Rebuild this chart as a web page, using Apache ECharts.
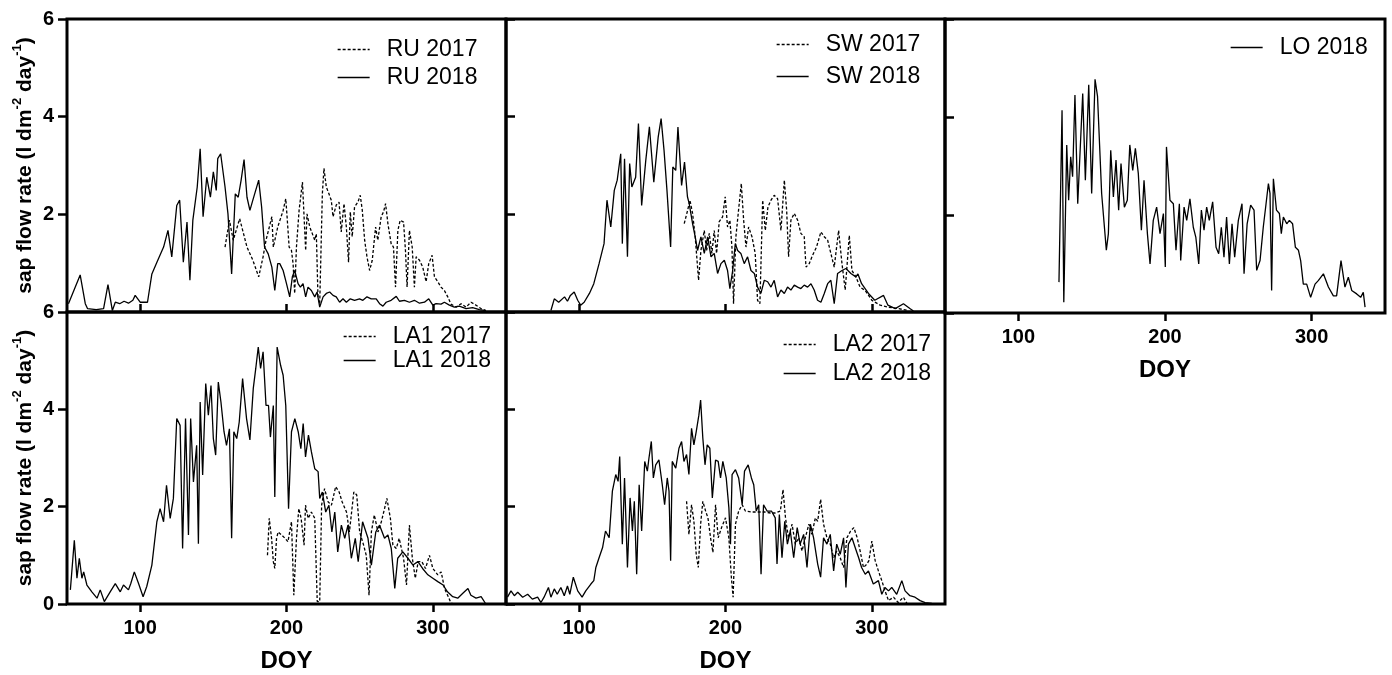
<!DOCTYPE html>
<html><head><meta charset="utf-8">
<script src="https://cdn.jsdelivr.net/npm/echarts@6/dist/echarts.min.js"></script>
<style>html,body{margin:0;padding:0;background:#fff}#c{width:1392px;height:675px}</style>
</head><body><div id="c"></div>
<script>
const xTicks = [100, 200, 300];
const yTickInterval = 2;

const ru2017 = [[158,1.33],[161,1.88],[163.6,1.47],[168,1.91],[173,1.33],[177,1.06],[181,0.72],[184,1.13],[186,1.47],[190,1.95],[191,1.33],[194,1.74],[197.7,2.08],[199.5,2.32],[200.4,1.95],[201.8,1.33],[203.4,1.26],[204.5,0.99],[205.6,0.38],[206.8,1.33],[208.6,2.08],[210.9,2.66],[211.8,2.08],[213.1,1.26],[214,2.01],[215.9,1.74],[217.7,1.6],[219.3,1.47],[220.4,1.6],[221.5,0.31],[222.7,0.17],[224.5,2.42],[225.6,2.94],[227.2,2.56],[229,2.42],[230.6,2.29],[231.8,1.95],[234,2.19],[235.9,2.25],[237.4,1.64],[239.3,2.22],[240.9,1.74],[242.4,1.02],[243.6,2.05],[244.9,1.54],[246.5,2.15],[248.8,2.25],[250.4,2.39],[251.8,2.08],[253.4,1.47],[255,1.13],[256.8,0.85],[258.6,1.06],[260.9,1.74],[262.4,1.47],[264.7,1.95],[266.3,2.05],[267.7,2.22],[269.3,1.81],[271.5,1.4],[273.1,1.33],[274.5,0.51],[276.1,1.67],[277.7,1.88],[280,1.84],[281.3,1.26],[282.4,0.51],[284,1.67],[285.9,1.33],[287.4,0.51],[288.6,1.13],[290.9,1.06],[293.1,0.92],[295.4,0.62],[297.2,0.99],[299.5,1.16],[301.1,0.72],[303.4,0.62],[305.6,0.51],[307.9,0.44],[310.2,0.31],[312.4,0.16],[315.9,0.1],[319.3,0.17],[322.7,0.1],[326.1,0.2],[329.5,0.14],[332.9,0.07],[336.3,0.03]];
const ru2018 = [[51,0.17],[59,0.76],[62.5,0.17],[64,0.07],[70,0.05],[75,0.07],[78,0.56],[81,0.03],[83,0.2],[86,0.17],[89,0.22],[92,0.18],[95,0.24],[96.6,0.34],[100,0.2],[105,0.2],[108,0.78],[111,0.99],[116,1.33],[119,1.67],[121.6,1.13],[125,2.18],[127,2.29],[129.5,1.02],[132,1.84],[134,0.65],[136,1.88],[139,2.56],[141,3.34],[143,1.95],[145.5,2.76],[148,2.35],[150,2.87],[152,2.49],[153,3.14],[155,3.24],[158,2.56],[160,2.01],[162.5,0.78],[165,2.42],[167,2.35],[169,2.7],[171,3.12],[173,2.35],[175,2.08],[177,2.29],[181,2.7],[183,2.15],[185,1.33],[187.5,1.19],[190,0.92],[192,0.44],[194,0.99],[195.4,0.99],[197.7,0.85],[200,0.58],[202.2,0.31],[204,0.72],[205.6,0.85],[207.9,0.58],[209.5,0.51],[211.3,0.58],[213.1,0.31],[214.7,0.51],[217,0.44],[219.3,0.31],[220.9,0.41],[222.7,0.1],[225,0.31],[227.2,0.38],[229.5,0.41],[231.8,0.34],[234,0.31],[236.3,0.2],[238.6,0.27],[240.9,0.2],[243.6,0.27],[246.5,0.24],[249.9,0.27],[252.2,0.24],[255,0.31],[257.9,0.27],[261.3,0.27],[263.6,0.17],[265.9,0.12],[268.1,0.2],[271.5,0.24],[275,0.32],[277.2,0.22],[280.6,0.24],[284,0.2],[287.4,0.24],[290.9,0.18],[294.3,0.2],[297.2,0.27],[300,0.14],[302.2,0.17],[305.6,0.16],[307.9,0.2],[311.3,0.14],[314.7,0.1],[318.1,0.12],[322.7,0.07],[327.2,0.09],[331.8,0.05],[336.3,0.03]];

const sw2017 = [[171.8,1.81],[174.1,2.08],[175.7,2.29],[177.5,2.02],[179.3,1.54],[181.6,0.65],[183.2,1.26],[185.5,1.67],[187.1,1.26],[188.9,1.61],[190.7,1.2],[192.3,1.67],[193.9,1.2],[195.7,1.85],[198,1.95],[199.8,2.36],[201.4,1.74],[203,1.88],[204.4,1.33],[205.5,0.17],[207.1,1.54],[208.9,2.08],[210.8,2.63],[212.4,1.88],[214,1.33],[215.8,1.74],[218.1,1.54],[220.3,1.2],[221.9,0.24],[223.5,0.17],[225.4,2.29],[227.2,1.67],[229,2.15],[231.1,2.29],[233.3,2.39],[235.6,2.32],[237.9,1.67],[240.2,2.7],[241.8,2.08],[243.1,1.13],[244.7,1.88],[247,2.02],[249.3,1.88],[251.5,1.61],[253.8,1.54],[255,0.92],[257.2,0.99],[259.5,1.16],[262.2,1.33],[265.2,1.64],[267.5,1.54],[269.8,1.47],[272,1.2],[274.3,0.92],[277.3,1.67],[279.6,0.99],[281.8,0.45],[284.6,1.57],[286.4,0.85],[289.1,0.72],[292,0.51],[295.5,0.44],[300,0.24],[305.7,0.14],[311,0.1],[318,0.07],[325,0.03]];
const sw2018 = [[80.7,0.03],[83,0.27],[86,0.2],[90,0.31],[92,0.22],[94,0.34],[96.6,0.41],[99,0.24],[101,0.14],[103.4,0.2],[107,0.38],[110,0.58],[113.6,0.99],[117,1.4],[119,2.29],[121.6,1.74],[124,2.49],[126,2.7],[128.4,3.24],[129.5,1.4],[131,3.14],[133,1.13],[134.5,3.04],[136,2.56],[138.6,2.76],[140.5,3.86],[142.7,2.18],[145.5,3.1],[148,3.79],[151,2.66],[154,3.58],[156,3.96],[158,3.31],[160,2.49],[162.5,1.33],[164,2.97],[166,2.9],[167.5,3.79],[170,2.59],[172,3.07],[174,2.36],[175.2,2.22],[177.5,1.81],[179.3,1.54],[180.9,1.26],[183.2,1.54],[185.5,1.2],[187.8,1.54],[190.1,1.13],[192.3,1.2],[194.6,0.79],[196.9,0.99],[199.2,1.06],[201.4,0.85],[203,0.48],[204.9,0.85],[206.7,1.4],[208.3,1.26],[210.5,1.2],[212.8,0.99],[215.1,1.13],[217.4,0.85],[219.7,0.79],[221.9,0.51],[224.2,0.38],[226.5,0.65],[228.8,0.62],[231.1,0.51],[233.3,0.65],[235.6,0.31],[237.9,0.45],[240.2,0.38],[242.4,0.51],[244.7,0.45],[247,0.55],[249.3,0.51],[251.5,0.48],[253.8,0.55],[256.1,0.51],[258.4,0.58],[260.6,0.45],[262.9,0.24],[265.2,0.2],[267.5,0.38],[269.8,0.58],[272,0.65],[274.3,0.17],[276.6,0.79],[279.6,0.85],[282.3,0.89],[285.7,0.79],[289.1,0.72],[290.5,0.78],[293,0.58],[297.7,0.38],[302,0.24],[308,0.34],[311,0.14],[316,0.07],[321.6,0.17],[326,0.07],[328.4,0.02]];

const lo2018 = [[127.7,0.63],[129.8,4.14],[131,0.22],[133,3.43],[134.3,2.3],[135.7,3.19],[137,2.78],[138.6,4.45],[140.5,2.23],[143.9,4.48],[145.7,2.71],[148,4.66],[150,2.44],[152.3,4.77],[154,4.42],[156.8,2.44],[160,1.28],[161.4,1.62],[163,3.32],[164.8,2.37],[166.6,3.12],[168.4,2.1],[170,3.05],[172.3,2.16],[174.3,2.3],[176,3.43],[178,2.91],[179.8,3.36],[181.8,2.85],[183.9,1.69],[185.7,2.71],[188,1.62],[189.8,1.0],[192,1.89],[194.3,2.16],[196.6,1.62],[198.9,2.03],[200.2,0.94],[201,3.39],[203.4,2.3],[205.7,2.23],[207.5,1.28],[209.8,2.23],[210.7,1.07],[213,2.16],[214.8,1.89],[217,2.33],[219.3,1.75],[221,1.55],[223,1.0],[224.8,2.1],[226.6,1.69],[228.4,2.16],[230.2,1.89],[232.5,2.27],[234.8,1.34],[236.6,1.21],[238.4,1.75],[240.2,1.14],[242,1.96],[243.9,1.0],[245.7,1.82],[247.5,1.14],[250,1.89],[252.5,2.23],[253.9,0.8],[256,1.82],[258.4,2.2],[260.7,2.1],[262.5,0.87],[264.8,1.07],[267,1.75],[268.9,2.23],[270.5,2.64],[271.6,2.44],[272.7,0.46],[273.9,2.74],[276,2.1],[278,2.03],[279.3,1.62],[280.7,1.96],[283,1.82],[284.8,1.89],[287,1.82],[288.9,1.34],[291,1.28],[292.5,1.07],[294.3,0.59],[296.6,0.59],[299.3,0.32],[302.3,0.59],[304.5,0.66],[308,0.8],[311.4,0.53],[314.8,0.35],[317,0.35],[320,1.07],[322.7,0.53],[325,0.73],[327.3,0.46],[330.7,0.39],[333.4,0.32],[335.2,0.42],[336.4,0.12]];

const la12017 = [[187,1.0],[188.2,1.76],[189.8,1.35],[191,0.87],[192,0.73],[193.2,1.35],[194.3,1.48],[196.6,1.42],[199,1.35],[201,1.28],[203.4,1.69],[205,0.18],[206.8,1.35],[208.4,1.96],[210,1.76],[212,1.21],[213,2.03],[214.8,1.76],[217,1.89],[219.3,1.76],[221,0.05],[222.7,0.05],[224,2.03],[226,2.37],[228.4,2.1],[230.7,2.03],[233.6,2.41],[236,2.3],[238,2.1],[241,1.89],[243,1.48],[246,2.3],[248,2.24],[250,1.48],[252.7,1.21],[254.5,1.0],[256.4,0.18],[258,1.48],[260,1.83],[262.5,1.48],[264.8,1.69],[267,1.96],[268.6,2.17],[271,1.76],[272.7,1.21],[275,1.14],[277,1.35],[280,0.94],[282,0.39],[284,1.62],[286,0.94],[288,0.53],[290,0.87],[292.5,0.87],[295,0.73],[297.7,1.0],[300,0.73],[303.4,0.6],[305.7,0.66],[308,0.32],[311,0.12],[312.5,0.01],[316,0.0]];
const la12018 = [[52.3,0.29],[55,1.31],[56.8,0.53],[58.4,0.94],[60.2,0.53],[61.4,0.66],[63.6,0.39],[67,0.25],[70.5,0.12],[72.7,0.29],[75.5,0.05],[79.5,0.25],[83,0.42],[86.4,0.25],[88.6,0.39],[92,0.29],[93.6,0.42],[96,0.66],[98.9,0.42],[102,0.15],[104.5,0.36],[108,0.8],[111.4,1.69],[113.6,1.96],[116,1.69],[118,2.44],[120.5,1.76],[122.7,2.17],[125,3.81],[127.3,3.67],[129,1.14],[131,3.81],[133,1.42],[134.5,3.81],[136.4,2.51],[138.6,3.26],[139.8,1.24],[141,4.15],[142.7,2.65],[144.8,4.53],[146.6,3.88],[148.4,4.49],[150,3.4],[151.6,3.06],[153.4,4.56],[155.2,4.15],[157.3,3.54],[159,3.26],[161,3.6],[162.5,1.35],[164,3.54],[166,3.4],[167.7,3.74],[170,4.63],[172.7,3.81],[175,3.37],[177.3,4.43],[179,4.84],[180.7,5.28],[182.3,4.84],[184,5.18],[186,4.08],[187.7,4.08],[189,3.43],[191,4.08],[192,2.2],[193.6,5.28],[196,4.9],[197.7,4.7],[199.5,4.08],[201.4,1.96],[203.4,3.54],[205.7,3.81],[208,3.54],[209.8,3.19],[211.4,3.71],[213,3.02],[215,3.47],[217,3.13],[219.3,2.78],[221.6,2.72],[222.7,2.17],[224.5,2.3],[226.8,1.89],[229,2.03],[231,1.48],[233,1.89],[235,1.07],[237.5,1.62],[239.8,1.35],[242,1.62],[244.3,0.94],[247,1.35],[249,0.87],[252,1.69],[255.7,1.35],[258,0.8],[261,1.48],[263.6,1.62],[267,1.35],[269.3,1.42],[271.6,1.14],[274,0.32],[276,0.94],[279.5,1.07],[283,0.94],[286.4,0.8],[289.8,0.87],[293,0.73],[296.6,0.6],[300,0.53],[303.4,0.46],[307,0.39],[310,0.25],[313.6,0.15],[317,0.12],[320.5,0.22],[324,0.32],[326,0.18],[329.5,0.12],[333,0.15],[336,0.01]];

const la22017 = [[173.4,2.11],[175,1.43],[176.8,2.04],[178.4,1.7],[180,1.02],[181.4,0.75],[183,1.64],[184.5,2.11],[186.4,1.91],[188,1.77],[189.8,1.36],[191.4,1.06],[193.2,2.04],[195,1.36],[197.3,1.57],[200,1.77],[202.3,1.36],[204,0.55],[205.2,0.14],[206.8,1.64],[209,1.91],[211.4,2.04],[213.6,1.91],[218,1.89],[222.7,1.89],[227,1.89],[230.7,1.87],[234,1.87],[237.5,1.91],[239.3,2.35],[241,1.77],[243,1.36],[245.5,1.64],[247.7,1.23],[250,1.36],[252.3,1.09],[254.5,1.36],[257,1.64],[259,1.43],[261.4,1.77],[263,1.7],[265,2.15],[267,1.64],[269.3,1.36],[271.6,1.23],[273.9,0.95],[276,1.09],[278.4,0.95],[280.7,0.75],[283,1.36],[285.5,1.5],[287.7,1.57],[290,1.36],[292,1.09],[294.3,0.75],[296.6,0.82],[298,0.89],[300,1.29],[302.3,0.89],[304.5,0.68],[306.8,0.48],[309,0.27],[311.4,0.07],[314.8,0.14],[318,0.03],[321.6,0.14],[324,0.01]];
const la22018 = [[51,0.14],[53.4,0.27],[55.7,0.17],[58,0.24],[61.4,0.14],[64.8,0.2],[68,0.1],[71.6,0.14],[73.9,0.03],[76,0.14],[79,0.34],[80.7,0.14],[83,0.31],[85,0.2],[87.5,0.34],[89.8,0.17],[92,0.37],[93.6,0.2],[96,0.55],[99,0.27],[102,0.14],[104.5,0.27],[108,0.41],[110,0.48],[111.4,0.75],[113.6,0.95],[116,1.16],[118,1.5],[120.5,1.36],[122.7,2.32],[125,2.66],[126.6,2.52],[127.7,3.03],[129.5,1.23],[131,2.59],[133,0.75],[134.8,2.18],[136.4,1.5],[137.7,2.11],[139.3,0.61],[141,2.45],[142.7,1.5],[144.8,2.93],[146.6,2.73],[147.7,3.0],[149.3,3.34],[150.7,2.59],[152.3,2.86],[154.5,2.96],[156.8,2.45],[158.4,2.04],[160.2,2.59],[161.4,2.32],[162.5,0.89],[163.6,2.93],[166,2.79],[168.2,3.2],[170,3.34],[171.6,2.93],[173.4,3.07],[175,2.66],[176.8,3.61],[178.4,3.27],[180,3.54],[181.8,3.88],[183,4.19],[184.5,3.41],[186,2.86],[187.5,3.27],[189.3,3.2],[191,2.18],[193.2,2.96],[195,2.93],[196.6,2.59],[198.2,2.93],[200.5,2.59],[202.3,1.98],[203.4,1.23],[204.5,2.66],[206.8,2.76],[209,2.59],[211.4,2.04],[213,2.73],[215.5,2.86],[217.7,2.59],[219.3,2.45],[221,1.91],[222.7,2.04],[224.3,0.61],[226,2.04],[228.4,1.91],[231.4,1.91],[234,1.77],[235.2,0.82],[236.8,1.84],[238.6,0.95],[240.5,1.7],[242.3,1.23],[244.3,1.5],[246.6,0.95],[249,1.57],[251,1.23],[253.4,1.43],[255.7,0.75],[258,1.64],[260.2,1.36],[263,0.82],[265,0.55],[267,1.36],[269.3,1.23],[271.6,1.43],[273.9,0.68],[276,1.23],[278.4,1.02],[280.7,1.36],[282.3,0.34],[284,1.23],[286.4,1.36],[288.6,1.16],[291,0.95],[293,0.75],[295.5,0.61],[297.7,0.68],[301,0.41],[304.5,0.48],[306.8,0.2],[309,0.34],[311.4,0.27],[313.6,0.34],[317,0.2],[320.5,0.48],[322.7,0.27],[326,0.17],[329.5,0.14],[333,0.07],[336.4,0.03],[341,0.01]];

const FONT = 'Arial, "Liberation Sans", Helvetica, sans-serif';
const chart = echarts.init(document.getElementById('c'), null, {renderer: 'canvas'});

const panels = [
  {names: ['RU 2017', 'RU 2018'], data: [ru2017, ru2018], grid: {left: 67, top: 19, width: 439, height: 293},
   xOut: false, xLabels: false, yOut: true, yLabels: true, hideZero: true, yName: true, legend: {left: 337, top: 38, gap: 5}},
  {names: ['SW 2017', 'SW 2018'], data: [sw2017, sw2018], grid: {left: 506, top: 19, width: 439, height: 293},
   xOut: false, xLabels: false, yOut: false, yLabels: false, yName: false, legend: {left: 776, top: 33, gap: 9}},
  {names: ['LO 2018'], data: [lo2018], grid: {left: 945, top: 19, width: 440, height: 294},
   xOut: true, xLabels: true, yOut: false, yLabels: false, yName: false, legend: {left: 1230, top: 36, gap: 5}},
  {names: ['LA1 2017', 'LA1 2018'], data: [la12017, la12018], grid: {left: 67, top: 312, width: 439, height: 292},
   xOut: true, xLabels: true, yOut: true, yLabels: true, yName: true, legend: {left: 343, top: 325, gap: 1}},
  {names: ['LA2 2017', 'LA2 2018'], data: [la22017, la22018], grid: {left: 506, top: 312, width: 439, height: 292},
   xOut: true, xLabels: true, yOut: false, yLabels: false, yName: false, legend: {left: 783, top: 333, gap: 6}}
];

const grids = [], xAxes = [], yAxes = [], series = [], legends = [];
panels.forEach((p, i) => {
  grids.push(Object.assign({show: true, borderColor: '#000', borderWidth: 3, backgroundColor: 'transparent'}, p.grid));
  xAxes.push({
    type: 'value', gridIndex: i, min: 50, max: 350,
    axisLine: {show: false}, splitLine: {show: false},
    axisTick: {show: true, inside: !p.xOut, length: 8, customValues: xTicks, lineStyle: {color: '#000', width: 2.5}},
    axisLabel: {show: p.xLabels, customValues: xTicks, margin: 14, color: '#000', fontSize: 20, fontWeight: 'bold', fontFamily: FONT},
    name: p.xLabels ? 'DOY' : '', nameLocation: 'middle', nameGap: 45,
    nameTextStyle: {color: '#000', fontSize: 24, fontWeight: 'bold', fontFamily: FONT}
  });
  yAxes.push({
    type: 'value', gridIndex: i, min: 0, max: 6, interval: yTickInterval,
    axisLine: {show: false}, splitLine: {show: false},
    axisTick: {show: true, inside: !p.yOut, length: 9, lineStyle: {color: '#000', width: 2.5}},
    axisLabel: {show: p.yLabels, margin: 13, color: '#000', fontSize: 20, fontWeight: 'bold', fontFamily: FONT,
      formatter: v => (p.hideZero && v === 0) ? '' : String(v)},
    name: p.yName ? '{a|sap flow rate (l dm}{s|-2}{a| day}{s|-1}{a|)}' : '',
    nameLocation: 'middle', nameGap: 31, nameRotate: 90,
    nameTextStyle: {rich: {
      a: {fontSize: 21, fontWeight: 'bold', color: '#000', fontFamily: FONT, lineHeight: 25, verticalAlign: 'bottom'},
      s: {fontSize: 13, fontWeight: 'bold', color: '#000', fontFamily: FONT, lineHeight: 13, verticalAlign: 'top'}
    }}
  });
  const single = p.names.length === 1;
  p.names.forEach((n, k) => {
    const dashed = !single && k === 0;
    series.push({
      name: n, type: 'line', xAxisIndex: i, yAxisIndex: i, data: p.data[k],
      symbol: 'none', silent: true, animation: false,
      lineStyle: {color: '#000', width: 1.3, type: dashed ? [3, 2] : 'solid'},
      itemStyle: {color: '#000'}, z: dashed ? 3 : 2
    });
  });
  legends.push({
    data: p.names, orient: 'vertical', left: p.legend.left, top: p.legend.top,
    itemWidth: 32, itemHeight: 14, itemGap: p.legend.gap, padding: 0,
    selectedMode: false,
    itemStyle: {opacity: 0, borderWidth: 0},
    lineStyle: {width: 1.3},
    textStyle: {color: '#000', fontSize: 23, fontFamily: FONT, padding: [0, 0, 0, 12]}
  });
});

chart.setOption({
  animation: false,
  backgroundColor: '#fff',
  grid: grids, xAxis: xAxes, yAxis: yAxes, series: series, legend: legends
});
</script>
</body></html>
